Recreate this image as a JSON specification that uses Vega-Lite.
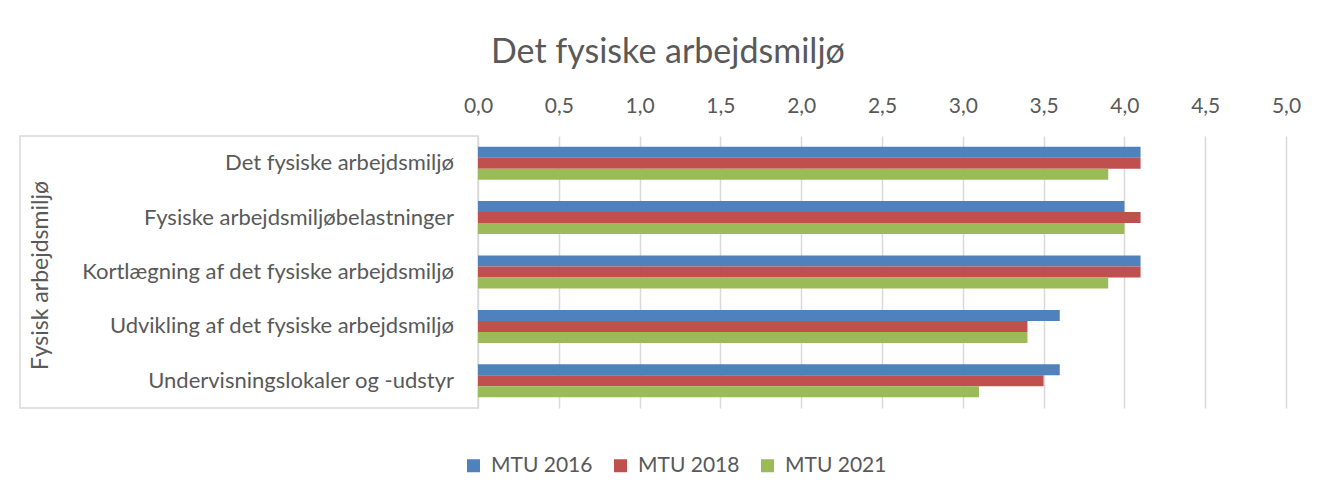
{
  "$schema": "https://vega.github.io/schema/vega-lite/v6.json",
  "autosize": {"type": "pad"},
  "padding": {"left": 19, "top": 36, "right": 0, "bottom": 0},
  "background": "white",
  "bounds": "flush",
  "title": {"text": "Det fysiske arbejdsmiljø", "anchor": "middle", "fontSize": 34, "font": "Lato", "fontWeight": "normal", "color": "#595959", "dx": 8, "offset": 25},
  "data": {"values": [
    {"kategori": "Det fysiske arbejdsmiljø", "serie": "MTU 2016", "score": 4.1},
    {"kategori": "Det fysiske arbejdsmiljø", "serie": "MTU 2018", "score": 4.1},
    {"kategori": "Det fysiske arbejdsmiljø", "serie": "MTU 2021", "score": 3.9},
    {"kategori": "Fysiske arbejdsmiljøbelastninger", "serie": "MTU 2016", "score": 4.0},
    {"kategori": "Fysiske arbejdsmiljøbelastninger", "serie": "MTU 2018", "score": 4.1},
    {"kategori": "Fysiske arbejdsmiljøbelastninger", "serie": "MTU 2021", "score": 4.0},
    {"kategori": "Kortlægning af det fysiske arbejdsmiljø", "serie": "MTU 2016", "score": 4.1},
    {"kategori": "Kortlægning af det fysiske arbejdsmiljø", "serie": "MTU 2018", "score": 4.1},
    {"kategori": "Kortlægning af det fysiske arbejdsmiljø", "serie": "MTU 2021", "score": 3.9},
    {"kategori": "Udvikling af det fysiske arbejdsmiljø", "serie": "MTU 2016", "score": 3.6},
    {"kategori": "Udvikling af det fysiske arbejdsmiljø", "serie": "MTU 2018", "score": 3.4},
    {"kategori": "Udvikling af det fysiske arbejdsmiljø", "serie": "MTU 2021", "score": 3.4},
    {"kategori": "Undervisningslokaler og -udstyr", "serie": "MTU 2016", "score": 3.6},
    {"kategori": "Undervisningslokaler og -udstyr", "serie": "MTU 2018", "score": 3.5},
    {"kategori": "Undervisningslokaler og -udstyr", "serie": "MTU 2021", "score": 3.1}
  ]},
  "spacing": 0,
  "hconcat": [
    {
      "width": 458,
      "height": 272,
      "view": {"stroke": "#d9d9d9", "strokeWidth": 1.5},
      "transform": [{"filter": "datum.serie === 'MTU 2016'"}],
      "mark": {"type": "text", "align": "right", "baseline": "middle", "dx": -24, "font": "Lato", "fontSize": 22, "color": "#595959"},
      "encoding": {
        "y": {"field": "kategori", "type": "nominal", "sort": null,
              "scale": {"paddingInner": 0.393, "paddingOuter": 0.197},
              "axis": {"labels": false, "ticks": false, "domain": false, "title": "Fysisk arbejdsmiljø",
                       "titleFont": "Lato", "titleFontSize": 23, "titleFontWeight": "normal", "titleColor": "#595959",
                       "titleAngle": -90, "titleX": 20, "titleY": 139, "titleAlign": "center", "titleBaseline": "middle"}},
        "x": {"datum": 1, "type": "quantitative", "scale": {"domain": [0, 1]}, "axis": null},
        "text": {"field": "kategori"}
      }
    },
    {
      "width": 808,
      "height": 272,
      "view": {"stroke": null},
      "mark": {"type": "bar"},
      "encoding": {
        "y": {"field": "kategori", "type": "nominal", "sort": null,
              "scale": {"paddingInner": 0.393, "paddingOuter": 0.197}, "axis": null},
        "yOffset": {"field": "serie", "type": "nominal", "scale": {"paddingInner": 0, "paddingOuter": 0}},
        "x": {"field": "score", "type": "quantitative",
              "scale": {"domain": [0, 5], "nice": false},
              "axis": {"orient": "top", "values": [0, 0.5, 1, 1.5, 2, 2.5, 3, 3.5, 4, 4.5, 5],
                       "labelExpr": "replace(format(datum.value, '.1f'), '.', ',')",
                       "title": null, "domain": false, "ticks": false, "grid": true, "labelFlush": false,
                       "gridColor": "#d9d9d9", "gridWidth": 1.5, "labelPadding": 20,
                       "labelFont": "Lato", "labelFontSize": 21, "labelColor": "#595959"}},
        "color": {"field": "serie", "type": "nominal",
                  "scale": {"domain": ["MTU 2016", "MTU 2018", "MTU 2021"], "range": ["#4f81bd", "#c0504d", "#9bbb59"]},
                  "legend": {"title": null, "orient": "none", "direction": "horizontal", "legendX": 443, "legendY": 319,
                             "symbolType": "square", "symbolSize": 169, "symbolStrokeWidth": 0, "symbolOpacity": 1,
                             "labelFont": "Lato", "labelFontSize": 21, "labelColor": "#595959", "labelOffset": 7, "columnPadding": 17}}
      }
    }
  ]
}
